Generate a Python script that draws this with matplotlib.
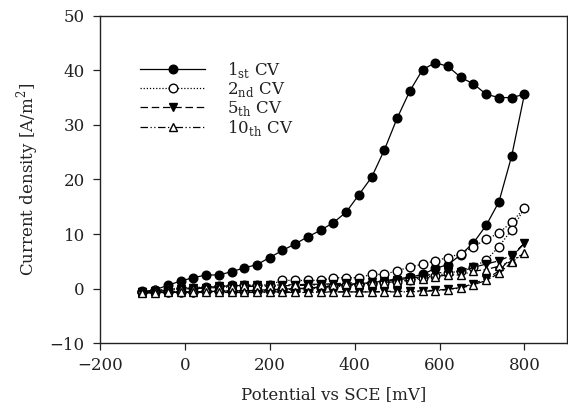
import matplotlib
matplotlib.use("Agg")
import matplotlib.pyplot as plt

plt.rcParams['font.family'] = ['DejaVu Serif']
plt.rcParams['mathtext.fontset'] = 'custom'
plt.rcParams['mathtext.rm'] = 'DejaVu Serif'

# potential grid of one sweep (mV), forward scan; the reverse scan runs back down
potential_fwd = [-100, -70, -40, -10, 20, 50, 80, 110, 140, 170, 200, 230, 260, 290, 320,
                 350, 380, 410, 440, 470, 500, 530, 560, 590, 620, 650, 680, 710, 740, 770, 800]
potential = potential_fwd + potential_fwd[-2::-1]

# current density [A/m2]: forward values then reverse values (770 -> -100)
cv1 = [-0.6, -0.2, 0.6, 1.4, 2.0, 2.5, 2.5, 3.1, 3.8, 4.4, 5.7, 7.0, 8.2, 9.5, 10.7,
       12.1, 14.0, 17.2, 20.4, 25.4, 31.2, 36.2, 40.1, 41.4, 40.7, 38.7, 37.5, 35.6, 35.0, 35.0, 35.6,
       24.3, 15.9, 11.6, 8.4, 6.2, 4.4, 3.7, 2.6, 2.1, 1.8, 1.4, 1.1, 0.9, 0.7, 0.5,
       0.3, 0.1, 0.0, -0.1, -0.2, -0.3, -0.4, -0.4, -0.5, -0.5, -0.6, -0.6, -0.6, -0.7, -0.7]
cv2 = [-0.5, -0.3, -0.1, 0.1, 0.2, 0.3, 0.5, 0.6, 0.6, 0.6, 0.7, 1.5, 1.5, 1.5, 1.5,
       2.0, 2.0, 2.0, 2.6, 2.6, 3.3, 3.9, 4.5, 5.1, 5.7, 6.4, 7.7, 9.0, 10.2, 12.2, 14.7,
       10.8, 7.7, 5.2, 4.0, 3.3, 2.8, 2.4, 2.0, 1.6, 1.3, 1.1, 0.9, 0.7, 0.5, 0.3,
       0.1, 0.0, -0.1, -0.2, -0.3, -0.4, -0.4, -0.5, -0.5, -0.5, -0.6, -0.6, -0.6, -0.6, -0.6]
cv5 = [-0.6, -0.4, -0.2, 0.0, 0.1, 0.2, 0.4, 0.5, 0.6, 0.6, 0.6, 0.7, 0.7, 0.8, 0.8,
       0.9, 1.0, 1.1, 1.2, 1.4, 1.6, 1.9, 2.2, 2.8, 3.1, 3.1, 3.9, 4.5, 5.1, 6.1, 8.3,
       5.8, 3.2, 1.8, 0.9, 0.2, -0.1, -0.3, -0.4, -0.5, -0.5, -0.5, -0.6, -0.6, -0.6, -0.6,
       -0.6, -0.6, -0.6, -0.6, -0.6, -0.6, -0.7, -0.7, -0.7, -0.7, -0.7, -0.7, -0.7, -0.7, -0.7]
cv10 = [-0.6, -0.5, -0.3, -0.1, 0.0, 0.1, 0.2, 0.3, 0.4, 0.4, 0.5, 0.5, 0.6, 0.6, 0.7,
        0.7, 0.8, 0.9, 1.0, 1.1, 1.3, 1.5, 1.8, 2.2, 2.5, 2.5, 3.2, 3.5, 4.1, 5.0, 6.6,
        4.8, 2.8, 1.5, 0.7, 0.1, -0.2, -0.4, -0.5, -0.6, -0.6, -0.6, -0.6, -0.6, -0.6, -0.6,
        -0.7, -0.7, -0.7, -0.7, -0.7, -0.7, -0.7, -0.7, -0.7, -0.7, -0.7, -0.7, -0.7, -0.8, -0.8]

labels = ['1$_\\mathrm{st}$ CV', '2$_\\mathrm{nd}$ CV', '5$_\\mathrm{th}$ CV', '10$_\\mathrm{th}$ CV']

fig = plt.figure(figsize=(5.68, 4.13), dpi=100)
ax = fig.add_axes([0.176, 0.169, 0.822, 0.793])

ink = '#222222'
lw = 0.9
ms = 6.2
ax.plot(potential, cv1, color='black', lw=lw, ls='-', marker='o', ms=ms,
        mfc='black', mec='black', label=labels[0])
ax.plot(potential, cv2, color='black', lw=lw, ls=(0, (1, 1.5)), marker='o', ms=ms,
        mfc='white', mec='black', label=labels[1])
ax.plot(potential, cv5, color='black', lw=lw, ls=(0, (6, 3)), marker='v', ms=ms,
        mfc='black', mec='black', label=labels[2])
ax.plot(potential, cv10, color='black', lw=lw, ls=(0, (6, 2, 1, 2, 1, 2)), marker='^', ms=ms,
        mfc='white', mec='black', label=labels[3])

ax.set_xlim(-200, 900)
ax.set_ylim(-10, 50)
ax.set_xticks([-200, 0, 200, 400, 600, 800])
ax.set_yticks([-10, 0, 10, 20, 30, 40, 50])
ax.tick_params(direction='out', length=5, width=0.9, colors=ink, labelsize=12,
               top=False, right=False)
ax.tick_params(axis='y', pad=6)
ax.tick_params(axis='x', pad=5)
for s in ax.spines.values():
    s.set_color(ink)
    s.set_linewidth(1.0)

ax.set_xlabel('Potential vs SCE [mV]', fontsize=12, color=ink, labelpad=9)
ax.set_ylabel('Current density [A/m$^2$]', fontsize=12, color=ink, labelpad=6)

leg = ax.legend(loc='upper left', bbox_to_anchor=(0.072, 0.885), frameon=False, fontsize=12,
                handlelength=3.9, handletextpad=1.3, labelspacing=0.0, numpoints=1,
                borderaxespad=0)
for t in leg.get_texts():
    t.set_color(ink)

fig.savefig('out.png', dpi=100)
